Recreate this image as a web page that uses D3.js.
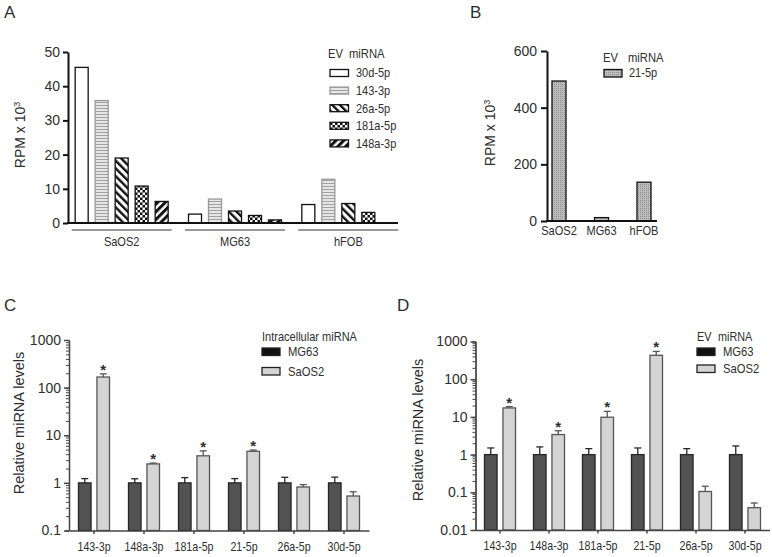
<!DOCTYPE html>
<html><head><meta charset="utf-8">
<script src="https://cdn.jsdelivr.net/npm/d3@7"></script>
<style>
body{margin:0;background:#fff}
svg{display:block}
text{font-family:"Liberation Sans",Arial,sans-serif;fill:#2e2e2e}
</style>
</head><body>
<svg id="c" width="772" height="557"></svg>
<script>
// ---------------- data ----------------
const groupsA = ["SaOS2", "MG63", "hFOB"];
const seriesA = ["30d-5p", "143-3p", "26a-5p", "181a-5p", "148a-3p"];
const rpmSaOS2 = [45.5, 35.8, 19, 10.8, 6.3];
const rpmMG63 = [2.6, 7, 3.5, 2.2, 0.9];
const rpmHFOB = [5.4, 12.8, 5.7, 3.1, null];
const ticksA = [0, 10, 20, 30, 40, 50];

const cellsB = ["SaOS2", "MG63", "hFOB"];
const rpm21 = [494, 12, 137];
const ticksB = [0, 200, 400, 600];

const mirnas = ["143-3p", "148a-3p", "181a-5p", "21-5p", "26a-5p", "30d-5p"];
const cellLines = ["MG63", "SaOS2"];
const intraMG63 = [1, 1, 1, 1, 1, 1];
const intraMG63Err = [1.23, 1.22, 1.29, 1.23, 1.31, 1.32];
const intraSaOS2 = [167, 2.5, 3.7, 4.6, 0.82, 0.53];
const intraSaOS2Err = [194, 2.6, 4.7, 4.9, 0.92, 0.65];
const intraSig = [1, 1, 1, 1, 0, 0];
const evMG63 = [1, 1, 1, 1, 1, 1];
const evMG63Err = [1.5, 1.6, 1.44, 1.5, 1.44, 1.7];
const evSaOS2 = [17.3, 3.4, 9.8, 430, 0.105, 0.039];
const evSaOS2Err = [18.7, 4.3, 14, 545, 0.145, 0.052];
const evSig = [1, 1, 1, 1, 0, 0];
const ticksC = [0.1, 1, 10, 100, 1000];
const ticksD = [0.01, 0.1, 1, 10, 100, 1000];

// ---------------- setup ----------------
const svg = d3.select("#c");
svg.append("rect").attr("width", 772).attr("height", 557).attr("fill", "#fff");
const defs = svg.append("defs");

function pat(id, w, h, rot, build) {
  const p = defs.append("pattern").attr("id", id).attr("patternUnits", "userSpaceOnUse")
    .attr("width", w).attr("height", h);
  if (rot) p.attr("patternTransform", `rotate(${rot})`);
  build(p);
}
pat("pH", 3, 3, 0, p => {
  p.append("rect").attr("width", 3).attr("height", 3).attr("fill", "#e6e6e6");
  p.append("rect").attr("width", 3).attr("height", 1).attr("fill", "#a0a0a0");
});
pat("pBack", 5.5, 5.5, -45, p => {
  p.append("rect").attr("width", 5.5).attr("height", 5.5).attr("fill", "#fff");
  p.append("rect").attr("width", 2.4).attr("height", 5.5).attr("fill", "#111");
});
pat("pFwd", 5.5, 5.5, 45, p => {
  p.append("rect").attr("width", 5.5).attr("height", 5.5).attr("fill", "#fff");
  p.append("rect").attr("width", 3).attr("height", 5.5).attr("fill", "#111");
});
pat("pChk", 5, 5, 0, p => {
  p.append("rect").attr("width", 5).attr("height", 5).attr("fill", "#111");
  p.append("rect").attr("width", 2.5).attr("height", 2.5).attr("fill", "#fff");
  p.append("rect").attr("x", 2.5).attr("y", 2.5).attr("width", 2.5).attr("height", 2.5).attr("fill", "#fff");
});
pat("pDot", 2, 2, 0, p => {
  p.append("rect").attr("width", 2).attr("height", 2).attr("fill", "#bdbdbd");
  p.append("rect").attr("width", 1).attr("height", 1).attr("fill", "#8e8e8e");
});

const fillA = ["#fff", "url(#pH)", "url(#pBack)", "url(#pChk)", "url(#pFwd)"];
const strokeA = ["#111", "#999", "#111", "#111", "#111"];

function txt(g, x, y, s, size, anchor, sx) {
  return g.append("text")
    .attr("transform", `translate(${x},${y}) scale(${sx || 1},1)`)
    .attr("text-anchor", anchor || "start")
    .attr("dy", "0.35em")
    .style("font-size", size + "px")
    .text(s);
}
function styleAxis(g, color, w, size) {
  g.selectAll("path.domain").attr("stroke", color).attr("stroke-width", w);
  g.selectAll(".tick line").attr("stroke", color).attr("stroke-width", w);
  g.selectAll(".tick text").style("font-size", size + "px").attr("fill", "#2e2e2e")
    .style("font-family", '"Liberation Sans",Arial,sans-serif');
}

// panel letters
[["A", 4, 12], ["B", 470, 12], ["C", 4, 305], ["D", 397, 305]].forEach(([s, x, y]) => txt(svg, x, y, s, 17));

// ---------------- Panel A ----------------
{
  const g = svg.append("g");
  const y = d3.scaleLinear().domain([0, 50]).range([223, 52]);
  const x0 = d3.scaleBand().domain(groupsA).range([65, 405]);
  const x1 = d3.scaleBand().domain(seriesA).range([-46.5, 46.5]).paddingInner(0.35);
  const rows = [rpmSaOS2, rpmMG63, rpmHFOB];
  groupsA.forEach((grp, gi) => {
    const cx = x0(grp) + x0.bandwidth() / 2;
    seriesA.forEach((s, si) => {
      const v = rows[gi][si];
      if (v == null) return;
      g.append("rect").attr("x", cx + x1(s)).attr("width", x1.bandwidth())
        .attr("y", y(v)).attr("height", y(0) - y(v))
        .attr("fill", fillA[si]).attr("stroke", strokeA[si]).attr("stroke-width", 1.3);
    });
    g.append("line").attr("x1", cx - 50).attr("x2", cx + 50).attr("y1", 230).attr("y2", 230)
      .attr("stroke", "#777").attr("stroke-width", 1.5);
    txt(g, cx, 241, grp, 13, "middle", 0.85);
  });
  const ax = g.append("g").attr("transform", "translate(68,0)")
    .call(d3.axisLeft(y).tickValues(ticksA).tickSize(5).tickPadding(3).tickSizeOuter(0));
  styleAxis(ax, "#111", 2, 14);
  g.append("line").attr("x1", 67).attr("x2", 398).attr("y1", y(0)).attr("y2", y(0))
    .attr("stroke", "#111").attr("stroke-width", 2);
  g.append("text").attr("transform", "translate(25,135) rotate(-90)").attr("text-anchor", "middle")
    .style("font-size", "14px").html('RPM x 10<tspan dy="-5" style="font-size:9px">3</tspan>');
  // legend
  txt(g, 328, 54, "EV", 12.5, "start", 0.9);
  txt(g, 349, 54, "miRNA", 12.5, "start", 0.9);
  seriesA.forEach((s, i) => {
    const yy = 69.5 + i * 17.6;
    g.append("rect").attr("x", 330).attr("y", yy).attr("width", 18.5).attr("height", 7)
      .attr("fill", fillA[i]).attr("stroke", strokeA[i]).attr("stroke-width", 1.3);
    txt(g, 356, yy + 3.5, s, 12.5, "start", 0.88);
  });
}

// ---------------- Panel B ----------------
{
  const g = svg.append("g");
  const y = d3.scaleLinear().domain([0, 600]).range([221, 51]);
  const x = d3.scaleBand().domain(cellsB).range([537.75, 665.25]).paddingInner(0.67).paddingOuter(0.335);
  cellsB.forEach((c, i) => {
    g.append("rect").attr("x", x(c)).attr("width", x.bandwidth())
      .attr("y", y(rpm21[i])).attr("height", y(0) - y(rpm21[i]))
      .attr("fill", "url(#pDot)").attr("stroke", "#111").attr("stroke-width", 1.3);
    txt(g, x(c) + x.bandwidth() / 2, 230, c, 13, "middle", 0.85);
  });
  const ax = g.append("g").attr("transform", "translate(547,0)")
    .call(d3.axisLeft(y).tickValues(ticksB).tickSize(6).tickPadding(4).tickSizeOuter(0));
  styleAxis(ax, "#111", 2, 14);
  g.append("line").attr("x1", 546).attr("x2", 657).attr("y1", y(0)).attr("y2", y(0))
    .attr("stroke", "#111").attr("stroke-width", 2);
  g.append("text").attr("transform", "translate(495,133) rotate(-90)").attr("text-anchor", "middle")
    .style("font-size", "14px").html('RPM x 10<tspan dy="-5" style="font-size:9px">3</tspan>');
  txt(g, 603, 58, "EV", 12.5, "start", 0.9);
  txt(g, 628, 58, "miRNA", 12.5, "start", 0.9);
  g.append("rect").attr("x", 604).attr("y", 69.5).attr("width", 18).attr("height", 7.5)
    .attr("fill", "url(#pDot)").attr("stroke", "#111").attr("stroke-width", 1.3);
  txt(g, 629, 73, "21-5p", 12.5, "start", 0.88);
}

// ---------------- Panels C & D ----------------
function logPanel(o) {
  const g = svg.append("g");
  const y = d3.scaleLog().domain(o.domain).range(o.yr);
  const x = d3.scaleBand().domain(mirnas).range(o.xr);
  const xi = d3.scaleBand().domain(cellLines).range([-15.5, 15.5]).paddingInner(0.32);
  const fills = ["#525252", "#d4d4d4"], strokes = ["#262626", "#555"];
  const vals = [o.mg, o.sa], errs = [o.mgErr, o.saErr];
  mirnas.forEach((m, i) => {
    const cx = x(m) + x.bandwidth() / 2;
    cellLines.forEach((c, ci) => {
      const v = vals[ci][i], e = errs[ci][i];
      const bx = cx + xi(c), bw = xi.bandwidth();
      g.append("line").attr("x1", bx + bw / 2).attr("x2", bx + bw / 2).attr("y1", y(v)).attr("y2", y(e))
        .attr("stroke", strokes[ci]).attr("stroke-width", 1.3);
      g.append("line").attr("x1", bx + bw / 2 - 3.5).attr("x2", bx + bw / 2 + 3.5).attr("y1", y(e)).attr("y2", y(e))
        .attr("stroke", strokes[ci]).attr("stroke-width", 1.3);
      g.append("rect").attr("x", bx).attr("width", bw).attr("y", y(v)).attr("height", o.yr[0] - y(v))
        .attr("fill", fills[ci]).attr("stroke", strokes[ci]).attr("stroke-width", 1.3);
      if (ci === 1 && o.sig[i]) {
        g.append("text").attr("x", bx + bw / 2).attr("y", y(e) + 1).attr("text-anchor", "middle")
          .style("font-size", "15px").style("font-weight", "bold").attr("fill", "#1a1a1a").text("*");
      }
    });
  });
  const minor = g.append("g").attr("transform", `translate(${o.xr[0]},0)`)
    .call(d3.axisLeft(y).tickValues(y.ticks()).tickSize(3).tickFormat(""));
  styleAxis(minor, "#444", 1, 12);
  const ax = g.append("g").attr("transform", `translate(${o.xr[0]},0)`)
    .call(d3.axisLeft(y).tickValues(o.ticks).tickSize(5).tickPadding(3).tickSizeOuter(0)
      .tickFormat(d => String(d)));
  styleAxis(ax, "#444", 1.5, 14);
  const bx = g.append("g").attr("transform", `translate(0,${o.yr[0]})`)
    .call(d3.axisBottom(x).tickSize(3.5).tickSizeOuter(0).tickPadding(8));
  styleAxis(bx, "#444", 1.5, 12.5);
  bx.selectAll(".tick text").attr("transform", "scale(0.85,1)").attr("x", 0);
  g.append("text").attr("transform", `translate(${o.lblX},${o.lblY}) rotate(-90)`).attr("text-anchor", "middle")
    .style("font-size", "14.5px").text("Relative miRNA levels");
  // legend
  if (o.title2) {
    txt(g, o.legX, 337, o.title, 12, "start", 0.9);
    txt(g, o.legX + 21, 337, o.title2, 12, "start", 0.9);
  } else {
    txt(g, o.legX, 337, o.title, 12, "start", 0.92);
  }
  cellLines.forEach((c, ci) => {
    const yy = o.legY[ci];
    g.append("rect").attr("x", o.legX).attr("y", yy).attr("width", 18).attr("height", 7.5)
      .attr("fill", ci === 0 ? "#111" : "#d4d4d4").attr("stroke", "#222").attr("stroke-width", 1.3);
    txt(g, o.legX + 26, yy + 3.7, c, 12.5, "start", 0.9);
  });
}
logPanel({
  domain: [0.1, 1000], yr: [530.5, 340], xr: [69, 369], ticks: ticksC,
  mg: intraMG63, mgErr: intraMG63Err, sa: intraSaOS2, saErr: intraSaOS2Err, sig: intraSig,
  lblX: 24, lblY: 423, title: "Intracellular miRNA", legX: 262, legY: [348, 367.5]
});
logPanel({
  domain: [0.01, 1000], yr: [530, 341.5], xr: [475.5, 769.5], ticks: ticksD,
  mg: evMG63, mgErr: evMG63Err, sa: evSaOS2, saErr: evSaOS2Err, sig: evSig,
  lblX: 423, lblY: 430, title: "EV", title2: "miRNA", legX: 697, legY: [348, 365]
});
</script>
</body></html>
